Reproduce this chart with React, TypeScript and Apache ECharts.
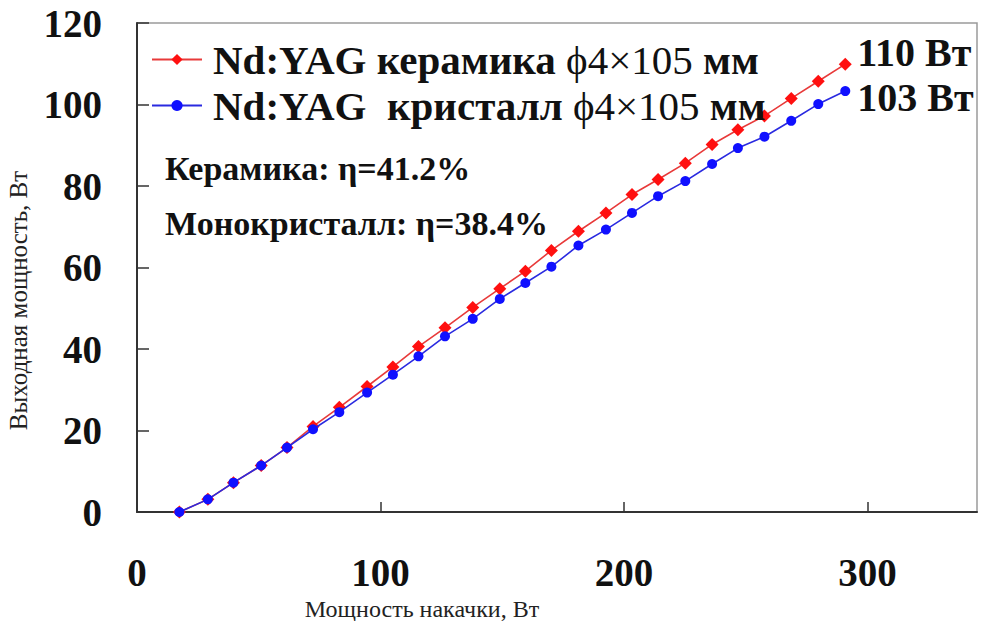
import React, { useEffect, useRef } from "react";
import * as echarts from "echarts";

const pumpPower = [17.4, 29.1, 39.6, 51.0, 61.6, 72.3, 83.1, 94.5, 105.1, 115.6, 126.5, 137.9, 149.0, 159.5, 170.2, 181.3, 192.6, 203.3, 214.0, 225.2, 236.2, 246.8, 257.7, 268.7, 279.8, 290.9];
const ceramicOut = [0, 3.1, 7.2, 11.4, 15.8, 21.0, 25.7, 30.8, 35.6, 40.6, 45.2, 50.2, 54.8, 59.1, 64.2, 68.9, 73.4, 77.9, 81.6, 85.6, 90.2, 93.8, 97.2, 101.5, 105.7, 109.9];
const crystalOut = [0, 3.1, 7.2, 11.4, 15.8, 20.3, 24.5, 29.3, 33.7, 38.2, 43.1, 47.4, 52.3, 56.2, 60.2, 65.4, 69.3, 73.4, 77.5, 81.2, 85.4, 89.3, 92.1, 96.0, 100.1, 103.3];
const seriesNames = ["Nd:YAG керамика ϕ4×105 мм", "Nd:YAG  кристалл ϕ4×105 мм"];
const annotations = ["Керамика: η=41.2%", "Монокристалл: η=38.4%"];
const xAxisName = "Мощность накачки, Вт";
const yAxisName = "Выходная мощность, Вт";

const SERIF = "'Liberation Serif', 'Times New Roman', serif";

export default function App() {
  const ref = useRef<HTMLDivElement>(null);
  useEffect(() => {
    if (!ref.current) return;
    const chart = echarts.init(ref.current, undefined, { renderer: "svg" });
    const mk = (ys: number[]) => pumpPower.map((x, i) => [x, ys[i]]);
    chart.setOption({
      animation: false,
      backgroundColor: "#ffffff",
      textStyle: { fontFamily: SERIF },
      grid: {
        left: 137,
        right: 7,
        top: 23,
        bottom: 109,
        show: true,
        borderColor: "#9a9a9a",
        borderWidth: 1.5,
        containLabel: false,
        outerBoundsMode: "none",
      },
      legend: {
        orient: "vertical",
        left: 146,
        top: 34,
        itemWidth: 50,
        itemHeight: 14,
        itemGap: 5,
        data: seriesNames,
        formatter: (name: string) => {
          const i = name.indexOf("ϕ");
          return `{b|${name.slice(0, i)}}{r|ϕ4×105}{b| мм}`;
        },
        textStyle: {
          padding: [0, 0, 0, 6],
          rich: {
            b: { fontFamily: SERIF, fontWeight: "bold", fontSize: 41, lineHeight: 36, color: "#111" },
            r: { fontFamily: SERIF, fontWeight: "normal", fontSize: 41, lineHeight: 36, color: "#111" },
          },
        },
      },
      xAxis: {
        type: "value",
        min: 0,
        max: 345,
        interval: 100,
        name: xAxisName,
        nameLocation: "middle",
        nameGap: 85,
        nameTextStyle: { fontFamily: SERIF, fontSize: 24, color: "#222", padding: [0, 270, 0, 0] },
        axisLine: { show: true, lineStyle: { color: "#333", width: 2 } },
        axisTick: { show: true, inside: true, length: 10, lineStyle: { color: "#333", width: 1.5 } },
        axisLabel: { margin: 41, showMaxLabel: false, fontFamily: SERIF, fontWeight: "bold", fontSize: 39, color: "#111" },
        splitLine: { show: false },
      },
      yAxis: {
        type: "value",
        min: 0,
        max: 120,
        interval: 20,
        name: yAxisName,
        nameLocation: "middle",
        nameGap: 106,
        nameRotate: 90,
        nameTextStyle: { fontFamily: SERIF, fontSize: 25, color: "#222", padding: [0, 66, 0, 0] },
        axisLine: { show: true, lineStyle: { color: "#333", width: 2 } },
        axisTick: { show: true, inside: true, length: 12, lineStyle: { color: "#333", width: 1.5 } },
        axisLabel: { margin: 35, padding: [16, 0, 0, 0], fontFamily: SERIF, fontWeight: "bold", fontSize: 39, color: "#111" },
        splitLine: { show: false },
      },
      graphic: [
        { type: "text", left: 165, top: 151, style: { text: annotations[0], font: `bold 34px ${SERIF}`, fill: "#111" } },
        { type: "text", left: 165, top: 206, style: { text: annotations[1], font: `bold 34px ${SERIF}`, fill: "#111" } },
      ],
      series: [
        {
          name: seriesNames[0],
          type: "line",
          data: mk(ceramicOut),
          symbol: "diamond",
          symbolSize: 13,
          itemStyle: { color: "#ff1010" },
          lineStyle: { color: "#e83a3a", width: 1.6 },
          z: 2,
          endLabel: {
            show: true,
            formatter: (p: any) => `${Math.round(p.value[1])} Вт`,
            fontFamily: SERIF,
            fontWeight: "bold",
            fontSize: 40,
            color: "#111",
            distance: 12,
            offset: [0, -12],
          },
        },
        {
          name: seriesNames[1],
          type: "line",
          data: mk(crystalOut),
          symbol: "circle",
          symbolSize: 10,
          itemStyle: { color: "#1010ff" },
          lineStyle: { color: "#2a2ae0", width: 1.6 },
          z: 3,
          endLabel: {
            show: true,
            formatter: (p: any) => `${Math.round(p.value[1])} Вт`,
            fontFamily: SERIF,
            fontWeight: "bold",
            fontSize: 40,
            color: "#111",
            distance: 12,
            offset: [0, 6],
          },
        },
      ],
    });
    return () => chart.dispose();
  }, []);
  return <div ref={ref} style={{ position: "fixed", left: 0, top: 0, width: 984, height: 621 }} />;
}
